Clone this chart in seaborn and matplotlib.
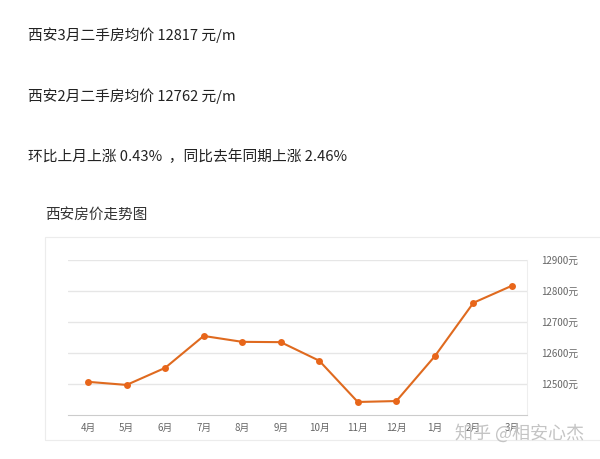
import matplotlib
matplotlib.use("Agg")
import matplotlib.pyplot as plt
import seaborn as sns
import pandas as pd
from matplotlib.patches import Rectangle

months = ["4月", "5月", "6月", "7月", "8月", "9月", "10月", "11月", "12月", "1月", "2月", "3月"]
prices = [12507, 12497, 12552, 12655, 12636, 12635, 12575, 12442, 12445, 12590, 12762, 12817]
yticks = [12500, 12600, 12700, 12800, 12900]

header_lines = [
    "西安3月二手房均价 12817 元/m",
    "西安2月二手房均价 12762 元/m",
    "环比上月上涨 0.43%  ，同比去年同期上涨 2.46%",
]
chart_title = "西安房价走势图"
watermark = "知乎 @相安心杰"

sns.set_style("white")
plt.rcParams['font.family'] = ['Noto Sans CJK SC', 'DejaVu Sans']

df = pd.DataFrame({"idx": range(len(months)), "price": prices})

fig = plt.figure(figsize=(6, 4.59), dpi=100)

# 外框 (右侧超出画面)
fig.patches.append(Rectangle((45 / 600, 1 - 440 / 459), 1.0, (440 - 237) / 459,
                             transform=fig.transFigure, fill=False, edgecolor="#ececec", linewidth=0.8))

# 顶部文字
for i, t in enumerate(header_lines):
    fig.text(28 / 600, 1 - (35 + 61 * i) / 459, t, fontsize=10.6, color="#222222", va="center")
fig.text(45 / 600, 1 - 215 / 459, chart_title, fontsize=10.5, color="#333333", va="center")

ax = fig.add_axes([68 / 600, 44 / 459, (527 - 68) / 600, (415 - 260) / 459])
sns.lineplot(data=df, x="idx", y="price", ax=ax, color="#df6a1f", linewidth=1.5,
             marker="o", markersize=5, markeredgewidth=0, markerfacecolor="#e8661a")

ax.set_xlim(-0.52, 11.39)
ax.set_ylim(12400, 12900)
ax.set_xticks(range(len(months)))
ax.set_xticklabels(months, fontsize=7, color="#666666")
ax.set_yticks(yticks)
ax.set_yticklabels([f"{v}元" for v in yticks], fontsize=7, color="#666666")
ax.yaxis.tick_right()
ax.tick_params(axis="y", length=0, pad=10)
ax.tick_params(axis="x", length=3, color="#cccccc", pad=3)
ax.grid(axis="y", color="#e6e6e6", linewidth=1)
ax.set_xlabel("")
ax.set_ylabel("")
for s in ["top", "left"]:
    ax.spines[s].set_visible(False)
ax.spines["right"].set_color("#eeeeee")
ax.spines["bottom"].set_color("#cccccc")

fig.text(455 / 600, 1 - 433 / 459, watermark, fontsize=13, color="#c4c4c4", va="center")

fig.savefig("out.png", dpi=100)
